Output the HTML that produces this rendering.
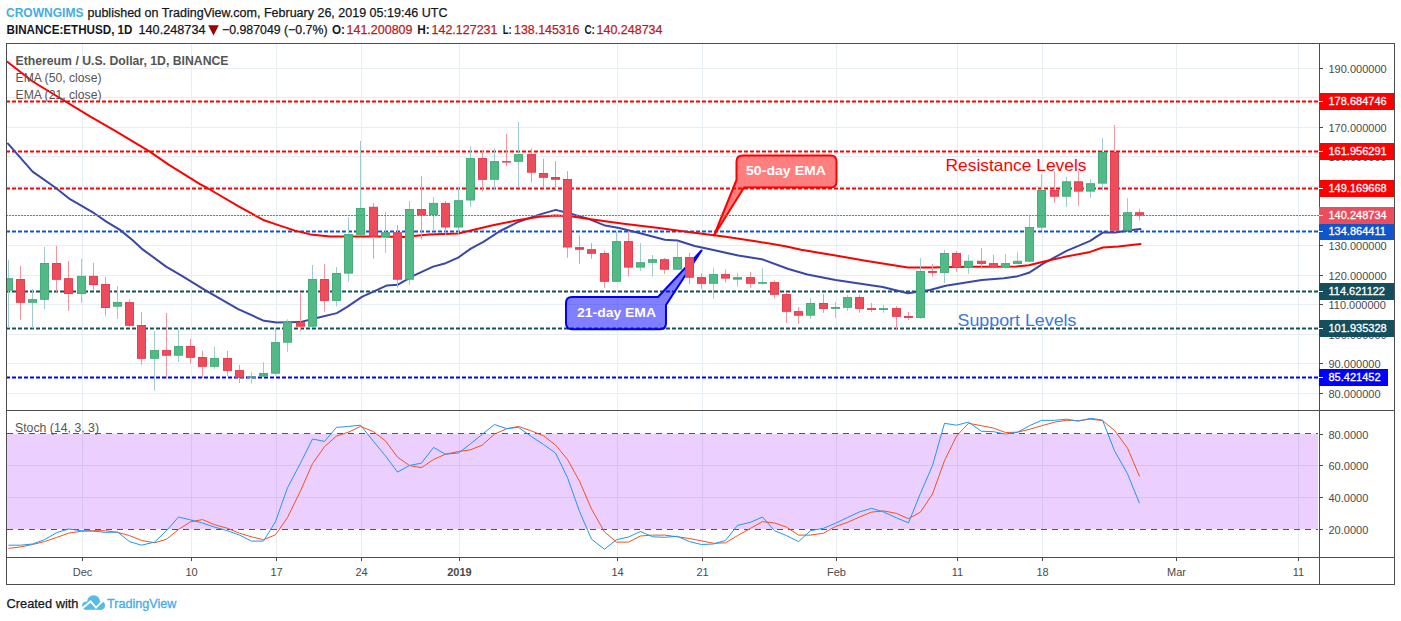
<!DOCTYPE html><html><head><meta charset="utf-8"><style>
html,body{margin:0;padding:0;background:#fff;width:1401px;height:621px;overflow:hidden}
svg{position:absolute;left:0;top:0;display:block}
text{font-family:"Liberation Sans",sans-serif}
</style></head><body>
<svg width="1401" height="621" viewBox="0 0 1401 621">
<rect x="0" y="0" width="1401" height="621" fill="#fff"/>
<defs>
<clipPath id="cm"><rect x="7" y="44" width="1312" height="366"/></clipPath>
<clipPath id="cs"><rect x="7" y="411" width="1312" height="146"/></clipPath>
</defs>
<g clip-path="url(#cm)">
<line x1="6" y1="393.5" x2="1319" y2="393.5" stroke="#e6eef4" stroke-width="1"/>
<line x1="6" y1="363.5" x2="1319" y2="363.5" stroke="#e6eef4" stroke-width="1"/>
<line x1="6" y1="334.5" x2="1319" y2="334.5" stroke="#e6eef4" stroke-width="1"/>
<line x1="6" y1="304.5" x2="1319" y2="304.5" stroke="#e6eef4" stroke-width="1"/>
<line x1="6" y1="275.5" x2="1319" y2="275.5" stroke="#e6eef4" stroke-width="1"/>
<line x1="6" y1="245.5" x2="1319" y2="245.5" stroke="#e6eef4" stroke-width="1"/>
<line x1="6" y1="215.5" x2="1319" y2="215.5" stroke="#e6eef4" stroke-width="1"/>
<line x1="6" y1="186.5" x2="1319" y2="186.5" stroke="#e6eef4" stroke-width="1"/>
<line x1="6" y1="156.5" x2="1319" y2="156.5" stroke="#e6eef4" stroke-width="1"/>
<line x1="6" y1="127.5" x2="1319" y2="127.5" stroke="#e6eef4" stroke-width="1"/>
<line x1="6" y1="97.5" x2="1319" y2="97.5" stroke="#e6eef4" stroke-width="1"/>
<line x1="6" y1="68.5" x2="1319" y2="68.5" stroke="#e6eef4" stroke-width="1"/>
<line x1="82.5" y1="43" x2="82.5" y2="410" stroke="#e6eef4" stroke-width="1"/>
<line x1="191.5" y1="43" x2="191.5" y2="410" stroke="#e6eef4" stroke-width="1"/>
<line x1="276.5" y1="43" x2="276.5" y2="410" stroke="#e6eef4" stroke-width="1"/>
<line x1="361.5" y1="43" x2="361.5" y2="410" stroke="#e6eef4" stroke-width="1"/>
<line x1="459.5" y1="43" x2="459.5" y2="410" stroke="#e6eef4" stroke-width="1"/>
<line x1="617.5" y1="43" x2="617.5" y2="410" stroke="#e6eef4" stroke-width="1"/>
<line x1="702.5" y1="43" x2="702.5" y2="410" stroke="#e6eef4" stroke-width="1"/>
<line x1="836.5" y1="43" x2="836.5" y2="410" stroke="#e6eef4" stroke-width="1"/>
<line x1="957.5" y1="43" x2="957.5" y2="410" stroke="#e6eef4" stroke-width="1"/>
<line x1="1042.5" y1="43" x2="1042.5" y2="410" stroke="#e6eef4" stroke-width="1"/>
<line x1="1176.5" y1="43" x2="1176.5" y2="410" stroke="#e6eef4" stroke-width="1"/>
<line x1="1298.5" y1="43" x2="1298.5" y2="410" stroke="#e6eef4" stroke-width="1"/>
</g>
<g clip-path="url(#cs)">
<line x1="82.5" y1="410" x2="82.5" y2="557" stroke="#e6eef4" stroke-width="1"/>
<line x1="191.5" y1="410" x2="191.5" y2="557" stroke="#e6eef4" stroke-width="1"/>
<line x1="276.5" y1="410" x2="276.5" y2="557" stroke="#e6eef4" stroke-width="1"/>
<line x1="361.5" y1="410" x2="361.5" y2="557" stroke="#e6eef4" stroke-width="1"/>
<line x1="459.5" y1="410" x2="459.5" y2="557" stroke="#e6eef4" stroke-width="1"/>
<line x1="617.5" y1="410" x2="617.5" y2="557" stroke="#e6eef4" stroke-width="1"/>
<line x1="702.5" y1="410" x2="702.5" y2="557" stroke="#e6eef4" stroke-width="1"/>
<line x1="836.5" y1="410" x2="836.5" y2="557" stroke="#e6eef4" stroke-width="1"/>
<line x1="957.5" y1="410" x2="957.5" y2="557" stroke="#e6eef4" stroke-width="1"/>
<line x1="1042.5" y1="410" x2="1042.5" y2="557" stroke="#e6eef4" stroke-width="1"/>
<line x1="1176.5" y1="410" x2="1176.5" y2="557" stroke="#e6eef4" stroke-width="1"/>
<line x1="1298.5" y1="410" x2="1298.5" y2="557" stroke="#e6eef4" stroke-width="1"/>
<line x1="6" y1="465.5" x2="1319" y2="465.5" stroke="#e6eef4" stroke-width="1"/>
<line x1="6" y1="497.5" x2="1319" y2="497.5" stroke="#e6eef4" stroke-width="1"/>
<rect x="7" y="434" width="1311" height="95" fill="rgb(153,21,255)" fill-opacity="0.2"/>
<line x1="7" y1="433.5" x2="1318" y2="433.5" stroke="#555" stroke-width="1" stroke-dasharray="6 5"/>
<line x1="7" y1="529.5" x2="1318" y2="529.5" stroke="#555" stroke-width="1" stroke-dasharray="6 5"/>
<polyline points="8.5,548.4 20.5,546.9 32.5,544.5 44.5,541.6 56.5,537.5 68.5,533.2 81.5,531.2 93.5,530.7 105.5,530.7 117.5,532.4 129.5,535.6 141.5,540.4 154.5,542.8 166.5,539.2 178.5,529.5 190.5,521.8 202.5,519.6 214.5,524.7 227.5,528.3 239.5,533.2 251.5,536.8 263.5,539.7 275.5,534.8 287.5,517.5 300.5,490.9 312.5,463.6 324.5,446.7 336.5,436.1 348.5,432.2 360.5,426.4 373.5,431.7 385.5,440.9 397.5,457.1 409.5,465.5 421.5,467.7 433.5,459.5 445.5,454.2 458.5,451.5 470.5,449.8 482.5,445.0 494.5,434.1 506.5,428.8 518.5,426.4 531.5,431.0 543.5,435.8 555.5,445.0 567.5,459.5 579.5,481.2 591.5,509.0 604.5,531.9 616.5,542.1 628.5,542.1 640.5,536.0 652.5,535.1 664.5,535.1 677.5,536.8 689.5,538.5 701.5,540.9 713.5,543.3 725.5,542.8 737.5,535.6 750.5,528.3 762.5,521.6 774.5,523.0 786.5,527.1 798.5,535.1 810.5,535.1 823.5,533.2 835.5,526.5 847.5,522.3 859.5,517.0 871.5,512.1 883.5,510.9 896.5,513.4 908.5,518.7 920.5,512.1 932.5,494.0 944.5,460.7 956.5,436.1 968.5,423.3 981.5,425.7 993.5,428.1 1005.5,432.5 1017.5,432.2 1029.5,429.3 1041.5,425.8 1054.5,422.2 1066.5,420.3 1078.5,420.6 1090.5,419.2 1102.5,420.6 1114.5,430.4 1127.5,448.1 1139.5,476.4" fill="none" stroke="#f4511e" stroke-width="1" stroke-linejoin="round"/>
<polyline points="8.5,545.2 20.5,545.2 32.5,544.0 44.5,539.7 56.5,532.7 68.5,529.0 81.5,530.7 93.5,531.2 105.5,532.4 117.5,532.0 129.5,541.6 141.5,545.2 154.5,542.1 166.5,530.7 178.5,517.0 190.5,519.9 202.5,523.0 214.5,527.1 227.5,530.7 239.5,535.1 251.5,541.1 263.5,541.1 275.5,521.6 287.5,487.8 300.5,463.1 312.5,439.0 324.5,441.4 336.5,427.4 348.5,426.4 360.5,425.2 373.5,441.4 385.5,455.9 397.5,472.1 409.5,465.5 421.5,463.1 433.5,447.4 445.5,454.2 458.5,453.0 470.5,443.8 482.5,434.1 494.5,424.5 506.5,428.6 518.5,427.4 531.5,436.6 543.5,444.5 555.5,453.0 567.5,477.6 579.5,511.4 591.5,539.2 604.5,549.3 616.5,539.7 628.5,537.0 640.5,531.5 652.5,536.8 664.5,537.3 677.5,536.3 689.5,541.6 701.5,544.5 713.5,544.0 725.5,540.4 737.5,525.4 750.5,522.3 762.5,517.0 774.5,530.7 786.5,535.6 798.5,541.6 810.5,530.7 823.5,528.3 835.5,523.2 847.5,517.5 859.5,511.9 871.5,508.3 883.5,511.9 896.5,517.9 908.5,522.8 920.5,493.3 932.5,465.5 944.5,423.3 956.5,425.2 968.5,422.1 981.5,431.3 993.5,431.7 1005.5,434.1 1017.5,432.2 1029.5,425.7 1041.5,420.4 1054.5,420.3 1066.5,419.2 1078.5,421.2 1090.5,418.3 1102.5,420.1 1114.5,450.7 1127.5,473.8 1139.5,503.3" fill="none" stroke="#2196f3" stroke-width="1" stroke-linejoin="round"/>
</g>
<g clip-path="url(#cm)">
<line x1="6" y1="101.5" x2="1319" y2="101.5" stroke="#ff0000" stroke-width="2" stroke-dasharray="4 2"/>
<line x1="6" y1="151.5" x2="1319" y2="151.5" stroke="#ff0000" stroke-width="2" stroke-dasharray="4 2"/>
<line x1="6" y1="188.5" x2="1319" y2="188.5" stroke="#ff0000" stroke-width="2" stroke-dasharray="4 2"/>
<line x1="6" y1="231.5" x2="1319" y2="231.5" stroke="#1155cc" stroke-width="2" stroke-dasharray="4 2"/>
<line x1="6" y1="291.5" x2="1319" y2="291.5" stroke="#134f5c" stroke-width="2" stroke-dasharray="4 2"/>
<line x1="6" y1="328.5" x2="1319" y2="328.5" stroke="#134f5c" stroke-width="2" stroke-dasharray="4 2"/>
<line x1="6" y1="377.5" x2="1319" y2="377.5" stroke="#0000ff" stroke-width="2" stroke-dasharray="4 2"/>
<path d="M742.5,155.5 H830.5 Q836.5,155.5 836.5,161.5 V181.5 Q836.5,187.5 830.5,187.5 H744 L714,235.5 L736.5,180 V161.5 Q736.5,155.5 742.5,155.5 Z" fill="#ff0000" fill-opacity="0.5" stroke="#ff0000" stroke-width="2" stroke-linejoin="round"/>
<text x="746" y="175" font-size="13" font-weight="bold" fill="#fff" textLength="80" lengthAdjust="spacingAndGlyphs">50-day EMA</text>
<path d="M572,297 H658 L701.5,250.5 L666,305 V323.3 Q666,329.3 660,329.3 H572 Q566,329.3 566,323.3 V303 Q566,297 572,297 Z" fill="#0000ff" fill-opacity="0.5" stroke="#0000ff" stroke-width="2" stroke-linejoin="round"/>
<text x="577" y="317.3" font-size="13" font-weight="bold" fill="#fff" textLength="79" lengthAdjust="spacingAndGlyphs">21-day EMA</text>
<text x="945.5" y="170.7" font-size="16.5" fill="#ff0000" textLength="141" lengthAdjust="spacingAndGlyphs">Resistance Levels</text>
<text x="957.5" y="326.2" font-size="16" fill="#3c78d8" textLength="119" lengthAdjust="spacingAndGlyphs">Support Levels</text>
<polyline points="8.0,143.6 32.6,171.6 55.6,187.8 70.0,199.2 94.2,213.2 106.3,221.6 119.6,229.6 132.4,240.0 141.6,248.6 166.1,266.6 181.5,275.7 204.7,289.8 238.2,309.2 264.0,320.8 276.9,322.6 300.1,322.1 315.6,318.2 336.8,313.1 347.2,306.8 361.9,296.8 374.5,291.1 387.0,285.4 397.5,284.8 414.2,275.4 433.1,266.6 445.7,263.2 458.2,257.6 470.8,248.6 483.4,241.9 500.1,231.0 518.8,221.7 539.3,214.6 555.7,209.9 570.7,213.8 587.9,218.6 605.2,225.6 619.3,228.0 638.2,232.7 664.9,239.8 677.4,240.5 694.7,246.0 710.0,249.3 738.3,255.6 761.8,259.2 788.5,269.0 807.4,274.5 835.6,280.0 882.7,287.0 907.9,293.3 930.0,290.0 945.7,285.7 981.8,279.9 1003.8,278.3 1016.4,276.6 1028.9,272.8 1043.1,263.7 1066.6,250.8 1090.2,240.9 1102.7,232.6 1115.3,232.6 1127.9,230.4 1140.4,229.1" fill="none" stroke="#3948a8" stroke-width="2" stroke-linejoin="round" stroke-linecap="round"/>
<polyline points="7.3,61.8 32.7,81.5 90.0,116.4 116.0,131.3 149.8,151.6 169.0,164.9 200.0,184.2 207.3,188.0 238.2,206.1 264.0,220.3 276.9,224.6 295.0,230.6 310.4,234.4 330.0,236.5 353.5,236.6 382.8,236.6 403.8,237.1 428.9,234.6 458.2,233.5 491.7,225.5 518.8,220.1 539.3,216.7 555.0,215.4 570.7,216.2 594.2,219.8 625.6,224.0 657.0,227.7 688.4,231.9 710.0,234.7 725.7,236.8 757.1,241.5 785.4,246.2 801.1,249.8 835.6,255.6 867.0,261.1 907.9,267.4 930.0,267.5 969.3,266.8 1016.4,266.5 1028.9,265.3 1043.1,261.8 1063.5,257.1 1090.2,251.9 1102.7,247.5 1118.4,246.4 1140.4,244.1" fill="none" stroke="#ff0000" stroke-width="2" stroke-linejoin="round" stroke-linecap="round"/>
<rect x="8" y="260.1" width="1" height="67.7" fill="#9fcbd2"/>
<rect x="4.5" y="278.7" width="8" height="11.5" fill="#53b987" stroke="#44ad78" stroke-width="1"/>
<rect x="20" y="265.8" width="1" height="53.9" fill="#f3959e"/>
<rect x="16.5" y="279.5" width="8" height="22.8" fill="#eb4d5c" stroke="#e63e4f" stroke-width="1"/>
<rect x="32" y="289.1" width="1" height="39.2" fill="#9fcbd2"/>
<rect x="28.5" y="299.6" width="8" height="2.7" fill="#53b987" stroke="#44ad78" stroke-width="1"/>
<rect x="44" y="246.9" width="1" height="62.0" fill="#9fcbd2"/>
<rect x="40.5" y="263.5" width="8" height="35.8" fill="#53b987" stroke="#44ad78" stroke-width="1"/>
<rect x="56" y="246.0" width="1" height="45.9" fill="#f3959e"/>
<rect x="52.5" y="263.5" width="8" height="15.8" fill="#eb4d5c" stroke="#e63e4f" stroke-width="1"/>
<rect x="68" y="261.0" width="1" height="49.9" fill="#f3959e"/>
<rect x="64.5" y="278.7" width="8" height="14.8" fill="#eb4d5c" stroke="#e63e4f" stroke-width="1"/>
<rect x="81" y="259.0" width="1" height="43.8" fill="#9fcbd2"/>
<rect x="77.5" y="276.4" width="8" height="17.1" fill="#53b987" stroke="#44ad78" stroke-width="1"/>
<rect x="93" y="263.0" width="1" height="27.3" fill="#f3959e"/>
<rect x="89.5" y="276.4" width="8" height="8.1" fill="#eb4d5c" stroke="#e63e4f" stroke-width="1"/>
<rect x="105" y="277.0" width="1" height="38.7" fill="#f3959e"/>
<rect x="101.5" y="284.5" width="8" height="23.0" fill="#eb4d5c" stroke="#e63e4f" stroke-width="1"/>
<rect x="117" y="286.2" width="1" height="32.8" fill="#9fcbd2"/>
<rect x="113.5" y="302.5" width="8" height="3.7" fill="#53b987" stroke="#44ad78" stroke-width="1"/>
<rect x="129" y="299.2" width="1" height="28.2" fill="#f3959e"/>
<rect x="125.5" y="302.6" width="8" height="22.7" fill="#eb4d5c" stroke="#e63e4f" stroke-width="1"/>
<rect x="141" y="312.0" width="1" height="52.9" fill="#f3959e"/>
<rect x="137.5" y="325.5" width="8" height="32.8" fill="#eb4d5c" stroke="#e63e4f" stroke-width="1"/>
<rect x="154" y="331.1" width="1" height="59.6" fill="#9fcbd2"/>
<rect x="150.5" y="350.6" width="8" height="7.7" fill="#53b987" stroke="#44ad78" stroke-width="1"/>
<rect x="166" y="313.0" width="1" height="65.6" fill="#f3959e"/>
<rect x="162.5" y="350.6" width="8" height="4.6" fill="#eb4d5c" stroke="#e63e4f" stroke-width="1"/>
<rect x="178" y="329.1" width="1" height="32.6" fill="#9fcbd2"/>
<rect x="174.5" y="346.5" width="8" height="8.7" fill="#53b987" stroke="#44ad78" stroke-width="1"/>
<rect x="190" y="338.8" width="1" height="25.0" fill="#f3959e"/>
<rect x="186.5" y="346.5" width="8" height="10.8" fill="#eb4d5c" stroke="#e63e4f" stroke-width="1"/>
<rect x="202" y="350.9" width="1" height="26.9" fill="#f3959e"/>
<rect x="198.5" y="357.5" width="8" height="8.8" fill="#eb4d5c" stroke="#e63e4f" stroke-width="1"/>
<rect x="214" y="346.9" width="1" height="22.0" fill="#9fcbd2"/>
<rect x="210.5" y="358.5" width="8" height="7.8" fill="#53b987" stroke="#44ad78" stroke-width="1"/>
<rect x="227" y="350.9" width="1" height="25.0" fill="#f3959e"/>
<rect x="223.5" y="358.5" width="8" height="11.9" fill="#eb4d5c" stroke="#e63e4f" stroke-width="1"/>
<rect x="239" y="364.9" width="1" height="18.2" fill="#f3959e"/>
<rect x="235.5" y="370.6" width="8" height="6.7" fill="#eb4d5c" stroke="#e63e4f" stroke-width="1"/>
<rect x="251" y="372.2" width="1" height="11.5" fill="#9fcbd2"/>
<rect x="247" y="376.2" width="9" height="1.7" fill="#44ad78"/>
<rect x="263" y="362.2" width="1" height="14.8" fill="#9fcbd2"/>
<rect x="259.5" y="373.5" width="8" height="2.6" fill="#53b987" stroke="#44ad78" stroke-width="1"/>
<rect x="275" y="328.0" width="1" height="47.4" fill="#9fcbd2"/>
<rect x="271.5" y="342.6" width="8" height="30.6" fill="#53b987" stroke="#44ad78" stroke-width="1"/>
<rect x="287" y="319.3" width="1" height="32.5" fill="#9fcbd2"/>
<rect x="283.5" y="322.3" width="8" height="19.9" fill="#53b987" stroke="#44ad78" stroke-width="1"/>
<rect x="300" y="291.9" width="1" height="38.8" fill="#f3959e"/>
<rect x="296.5" y="322.7" width="8" height="3.5" fill="#eb4d5c" stroke="#e63e4f" stroke-width="1"/>
<rect x="312" y="265.0" width="1" height="61.7" fill="#9fcbd2"/>
<rect x="308.5" y="279.5" width="8" height="46.7" fill="#53b987" stroke="#44ad78" stroke-width="1"/>
<rect x="324" y="264.2" width="1" height="47.5" fill="#f3959e"/>
<rect x="320.5" y="279.5" width="8" height="20.9" fill="#eb4d5c" stroke="#e63e4f" stroke-width="1"/>
<rect x="336" y="267.1" width="1" height="39.3" fill="#9fcbd2"/>
<rect x="332.5" y="273.5" width="8" height="26.9" fill="#53b987" stroke="#44ad78" stroke-width="1"/>
<rect x="348" y="217.1" width="1" height="64.5" fill="#9fcbd2"/>
<rect x="344.5" y="234.6" width="8" height="38.5" fill="#53b987" stroke="#44ad78" stroke-width="1"/>
<rect x="360" y="140.9" width="1" height="94.1" fill="#9fcbd2"/>
<rect x="356.5" y="208.5" width="8" height="25.8" fill="#53b987" stroke="#44ad78" stroke-width="1"/>
<rect x="373" y="202.9" width="1" height="55.8" fill="#f3959e"/>
<rect x="369.5" y="207.3" width="8" height="28.9" fill="#eb4d5c" stroke="#e63e4f" stroke-width="1"/>
<rect x="385" y="211.9" width="1" height="41.0" fill="#9fcbd2"/>
<rect x="381.5" y="232.7" width="8" height="3.8" fill="#53b987" stroke="#44ad78" stroke-width="1"/>
<rect x="397" y="225.0" width="1" height="62.7" fill="#f3959e"/>
<rect x="393.5" y="232.7" width="8" height="46.5" fill="#eb4d5c" stroke="#e63e4f" stroke-width="1"/>
<rect x="409" y="201.0" width="1" height="83.8" fill="#9fcbd2"/>
<rect x="405.5" y="209.5" width="8" height="69.7" fill="#53b987" stroke="#44ad78" stroke-width="1"/>
<rect x="421" y="176.1" width="1" height="63.3" fill="#f3959e"/>
<rect x="417.5" y="209.5" width="8" height="5.5" fill="#eb4d5c" stroke="#e63e4f" stroke-width="1"/>
<rect x="433" y="197.0" width="1" height="34.2" fill="#9fcbd2"/>
<rect x="429.5" y="203.4" width="8" height="11.3" fill="#53b987" stroke="#44ad78" stroke-width="1"/>
<rect x="445" y="201.0" width="1" height="34.1" fill="#f3959e"/>
<rect x="441.5" y="203.4" width="8" height="23.6" fill="#eb4d5c" stroke="#e63e4f" stroke-width="1"/>
<rect x="458" y="187.0" width="1" height="47.0" fill="#9fcbd2"/>
<rect x="454.5" y="200.7" width="8" height="26.3" fill="#53b987" stroke="#44ad78" stroke-width="1"/>
<rect x="470" y="146.2" width="1" height="60.8" fill="#9fcbd2"/>
<rect x="466.5" y="158.5" width="8" height="41.5" fill="#53b987" stroke="#44ad78" stroke-width="1"/>
<rect x="482" y="150.5" width="1" height="41.0" fill="#f3959e"/>
<rect x="478.5" y="158.5" width="8" height="20.8" fill="#eb4d5c" stroke="#e63e4f" stroke-width="1"/>
<rect x="494" y="148.3" width="1" height="42.1" fill="#9fcbd2"/>
<rect x="490.5" y="161.6" width="8" height="17.7" fill="#53b987" stroke="#44ad78" stroke-width="1"/>
<rect x="506" y="133.8" width="1" height="32.6" fill="#f3959e"/>
<rect x="502" y="161.1" width="9" height="1.5" fill="#e63e4f"/>
<rect x="518" y="122.0" width="1" height="65.5" fill="#9fcbd2"/>
<rect x="514.5" y="154.6" width="8" height="6.7" fill="#53b987" stroke="#44ad78" stroke-width="1"/>
<rect x="531" y="148.3" width="1" height="34.1" fill="#f3959e"/>
<rect x="527.5" y="154.6" width="8" height="17.6" fill="#eb4d5c" stroke="#e63e4f" stroke-width="1"/>
<rect x="543" y="158.9" width="1" height="28.6" fill="#f3959e"/>
<rect x="539.5" y="173.5" width="8" height="3.8" fill="#eb4d5c" stroke="#e63e4f" stroke-width="1"/>
<rect x="555" y="161.1" width="1" height="27.8" fill="#f3959e"/>
<rect x="551" y="177.0" width="9" height="2.8" fill="#e63e4f"/>
<rect x="567" y="171.2" width="1" height="86.5" fill="#f3959e"/>
<rect x="563.5" y="179.5" width="8" height="67.5" fill="#eb4d5c" stroke="#e63e4f" stroke-width="1"/>
<rect x="579" y="235.3" width="1" height="28.4" fill="#f3959e"/>
<rect x="575" y="247.1" width="9" height="2.7" fill="#e63e4f"/>
<rect x="591" y="243.1" width="1" height="15.7" fill="#f3959e"/>
<rect x="587.5" y="249.7" width="8" height="3.6" fill="#eb4d5c" stroke="#e63e4f" stroke-width="1"/>
<rect x="604" y="250.4" width="1" height="37.4" fill="#f3959e"/>
<rect x="600.5" y="253.5" width="8" height="27.8" fill="#eb4d5c" stroke="#e63e4f" stroke-width="1"/>
<rect x="616" y="231.6" width="1" height="50.2" fill="#9fcbd2"/>
<rect x="612.5" y="241.6" width="8" height="39.7" fill="#53b987" stroke="#44ad78" stroke-width="1"/>
<rect x="628" y="232.2" width="1" height="44.5" fill="#f3959e"/>
<rect x="624.5" y="241.6" width="8" height="25.5" fill="#eb4d5c" stroke="#e63e4f" stroke-width="1"/>
<rect x="640" y="243.1" width="1" height="27.8" fill="#9fcbd2"/>
<rect x="636.5" y="262.7" width="8" height="4.4" fill="#53b987" stroke="#44ad78" stroke-width="1"/>
<rect x="652" y="255.0" width="1" height="21.7" fill="#9fcbd2"/>
<rect x="648.5" y="259.7" width="8" height="2.6" fill="#53b987" stroke="#44ad78" stroke-width="1"/>
<rect x="664" y="257.9" width="1" height="16.0" fill="#f3959e"/>
<rect x="660.5" y="259.7" width="8" height="9.5" fill="#eb4d5c" stroke="#e63e4f" stroke-width="1"/>
<rect x="677" y="241.3" width="1" height="28.4" fill="#9fcbd2"/>
<rect x="673.5" y="257.5" width="8" height="11.7" fill="#53b987" stroke="#44ad78" stroke-width="1"/>
<rect x="689" y="252.9" width="1" height="30.9" fill="#f3959e"/>
<rect x="685.5" y="257.6" width="8" height="19.6" fill="#eb4d5c" stroke="#e63e4f" stroke-width="1"/>
<rect x="701" y="273.2" width="1" height="15.5" fill="#f3959e"/>
<rect x="697.5" y="277.6" width="8" height="5.7" fill="#eb4d5c" stroke="#e63e4f" stroke-width="1"/>
<rect x="713" y="268.1" width="1" height="30.5" fill="#9fcbd2"/>
<rect x="709.5" y="274.6" width="8" height="8.7" fill="#53b987" stroke="#44ad78" stroke-width="1"/>
<rect x="725" y="269.4" width="1" height="13.5" fill="#f3959e"/>
<rect x="721.5" y="274.6" width="8" height="3.5" fill="#eb4d5c" stroke="#e63e4f" stroke-width="1"/>
<rect x="737" y="273.2" width="1" height="13.6" fill="#9fcbd2"/>
<rect x="733" y="277.1" width="9" height="2.6" fill="#44ad78"/>
<rect x="750" y="272.2" width="1" height="15.5" fill="#f3959e"/>
<rect x="746.5" y="277.6" width="8" height="5.7" fill="#eb4d5c" stroke="#e63e4f" stroke-width="1"/>
<rect x="762" y="268.1" width="1" height="16.7" fill="#9fcbd2"/>
<rect x="758" y="282.1" width="9" height="1.7" fill="#44ad78"/>
<rect x="774" y="280.2" width="1" height="18.4" fill="#f3959e"/>
<rect x="770.5" y="282.6" width="8" height="11.7" fill="#eb4d5c" stroke="#e63e4f" stroke-width="1"/>
<rect x="786" y="292.6" width="1" height="30.4" fill="#f3959e"/>
<rect x="782.5" y="294.6" width="8" height="16.7" fill="#eb4d5c" stroke="#e63e4f" stroke-width="1"/>
<rect x="798" y="307.0" width="1" height="16.9" fill="#f3959e"/>
<rect x="794.5" y="311.6" width="8" height="3.6" fill="#eb4d5c" stroke="#e63e4f" stroke-width="1"/>
<rect x="810" y="298.0" width="1" height="20.8" fill="#9fcbd2"/>
<rect x="806.5" y="303.5" width="8" height="11.7" fill="#53b987" stroke="#44ad78" stroke-width="1"/>
<rect x="823" y="294.0" width="1" height="18.8" fill="#f3959e"/>
<rect x="819.5" y="303.5" width="8" height="4.9" fill="#eb4d5c" stroke="#e63e4f" stroke-width="1"/>
<rect x="835" y="301.9" width="1" height="16.0" fill="#9fcbd2"/>
<rect x="831" y="307.0" width="9" height="1.9" fill="#44ad78"/>
<rect x="847" y="295.0" width="1" height="15.8" fill="#9fcbd2"/>
<rect x="843.5" y="297.6" width="8" height="9.7" fill="#53b987" stroke="#44ad78" stroke-width="1"/>
<rect x="859" y="295.0" width="1" height="17.8" fill="#f3959e"/>
<rect x="855.5" y="297.6" width="8" height="10.8" fill="#eb4d5c" stroke="#e63e4f" stroke-width="1"/>
<rect x="871" y="302.9" width="1" height="9.0" fill="#f3959e"/>
<rect x="867" y="308.1" width="9" height="1.9" fill="#e63e4f"/>
<rect x="883" y="305.0" width="1" height="7.8" fill="#9fcbd2"/>
<rect x="879" y="308.1" width="9" height="1.9" fill="#44ad78"/>
<rect x="896" y="306.1" width="1" height="23.1" fill="#f3959e"/>
<rect x="892.5" y="308.6" width="8" height="7.7" fill="#eb4d5c" stroke="#e63e4f" stroke-width="1"/>
<rect x="908" y="312.0" width="1" height="7.9" fill="#f3959e"/>
<rect x="904" y="316.0" width="9" height="1.9" fill="#e63e4f"/>
<rect x="920" y="258.0" width="1" height="60.8" fill="#9fcbd2"/>
<rect x="916.5" y="271.5" width="8" height="45.9" fill="#53b987" stroke="#44ad78" stroke-width="1"/>
<rect x="932" y="263.9" width="1" height="13.0" fill="#f3959e"/>
<rect x="928" y="271.0" width="9" height="1.9" fill="#e63e4f"/>
<rect x="944" y="249.8" width="1" height="33.3" fill="#9fcbd2"/>
<rect x="940.5" y="253.5" width="8" height="18.9" fill="#53b987" stroke="#44ad78" stroke-width="1"/>
<rect x="956" y="250.9" width="1" height="20.9" fill="#f3959e"/>
<rect x="952.5" y="253.5" width="8" height="13.8" fill="#eb4d5c" stroke="#e63e4f" stroke-width="1"/>
<rect x="968" y="254.9" width="1" height="18.9" fill="#9fcbd2"/>
<rect x="964.5" y="261.3" width="8" height="6.0" fill="#53b987" stroke="#44ad78" stroke-width="1"/>
<rect x="981" y="248.1" width="1" height="20.6" fill="#f3959e"/>
<rect x="977.5" y="261.3" width="8" height="2.1" fill="#eb4d5c" stroke="#e63e4f" stroke-width="1"/>
<rect x="993" y="254.9" width="1" height="13.8" fill="#f3959e"/>
<rect x="989.5" y="263.6" width="8" height="3.5" fill="#eb4d5c" stroke="#e63e4f" stroke-width="1"/>
<rect x="1005" y="254.1" width="1" height="14.6" fill="#9fcbd2"/>
<rect x="1001.5" y="263.6" width="8" height="3.5" fill="#53b987" stroke="#44ad78" stroke-width="1"/>
<rect x="1017" y="252.1" width="1" height="11.8" fill="#9fcbd2"/>
<rect x="1013.5" y="261.3" width="8" height="2.1" fill="#53b987" stroke="#44ad78" stroke-width="1"/>
<rect x="1029" y="215.4" width="1" height="47.1" fill="#9fcbd2"/>
<rect x="1025.5" y="227.5" width="8" height="33.6" fill="#53b987" stroke="#44ad78" stroke-width="1"/>
<rect x="1041" y="174.2" width="1" height="55.8" fill="#9fcbd2"/>
<rect x="1037.5" y="190.5" width="8" height="36.6" fill="#53b987" stroke="#44ad78" stroke-width="1"/>
<rect x="1054" y="171.3" width="1" height="31.6" fill="#f3959e"/>
<rect x="1050.5" y="190.5" width="8" height="5.7" fill="#eb4d5c" stroke="#e63e4f" stroke-width="1"/>
<rect x="1066" y="177.1" width="1" height="29.9" fill="#9fcbd2"/>
<rect x="1062.5" y="181.8" width="8" height="14.4" fill="#53b987" stroke="#44ad78" stroke-width="1"/>
<rect x="1078" y="171.0" width="1" height="34.7" fill="#f3959e"/>
<rect x="1074.5" y="181.8" width="8" height="9.3" fill="#eb4d5c" stroke="#e63e4f" stroke-width="1"/>
<rect x="1090" y="179.1" width="1" height="18.9" fill="#9fcbd2"/>
<rect x="1086.5" y="183.7" width="8" height="7.4" fill="#53b987" stroke="#44ad78" stroke-width="1"/>
<rect x="1102" y="138.0" width="1" height="52.7" fill="#9fcbd2"/>
<rect x="1098.5" y="152.5" width="8" height="30.6" fill="#53b987" stroke="#44ad78" stroke-width="1"/>
<rect x="1114" y="125.0" width="1" height="106.0" fill="#f3959e"/>
<rect x="1110.5" y="152.5" width="8" height="77.6" fill="#eb4d5c" stroke="#e63e4f" stroke-width="1"/>
<rect x="1127" y="198.0" width="1" height="32.6" fill="#9fcbd2"/>
<rect x="1123.5" y="212.7" width="8" height="17.4" fill="#53b987" stroke="#44ad78" stroke-width="1"/>
<rect x="1139" y="208.9" width="1" height="11.6" fill="#f3959e"/>
<rect x="1135.5" y="212.7" width="8" height="2.4" fill="#eb4d5c" stroke="#e63e4f" stroke-width="1"/>
<line x1="6" y1="215.5" x2="1319" y2="215.5" stroke="#eb4d5c" stroke-width="1" stroke-dasharray="2 1"/>
<text x="15.5" y="64.8" font-size="12" font-weight="bold" fill="#555" textLength="213" lengthAdjust="spacingAndGlyphs">Ethereum / U.S. Dollar, 1D, BINANCE</text>
<text x="15.5" y="81.7" font-size="12" fill="#555" textLength="86" lengthAdjust="spacingAndGlyphs">EMA (50, close)</text>
<text x="15.5" y="98.5" font-size="12" fill="#555" textLength="86" lengthAdjust="spacingAndGlyphs">EMA (21, close)</text>
</g>
<text x="15" y="432.2" font-size="12" fill="#555" textLength="84" lengthAdjust="spacingAndGlyphs">Stoch (14, 3, 3)</text>
<rect x="6.5" y="43.5" width="1388" height="541" fill="none" stroke="#4d4d4d" stroke-width="1"/>
<line x1="1319.5" y1="43" x2="1319.5" y2="584" stroke="#4d4d4d" stroke-width="1"/>
<line x1="6" y1="410.5" x2="1394" y2="410.5" stroke="#4d4d4d" stroke-width="1"/>
<line x1="6" y1="557.5" x2="1394" y2="557.5" stroke="#4d4d4d" stroke-width="1"/>
<line x1="1319" y1="393.5" x2="1323" y2="393.5" stroke="#4a4a4a" stroke-width="1"/>
<text x="1328.5" y="397.5" font-size="11" fill="#4a4a4a">80.000000</text>
<line x1="1319" y1="363.5" x2="1323" y2="363.5" stroke="#4a4a4a" stroke-width="1"/>
<text x="1328.5" y="367.5" font-size="11" fill="#4a4a4a">90.000000</text>
<line x1="1319" y1="334.5" x2="1323" y2="334.5" stroke="#4a4a4a" stroke-width="1"/>
<text x="1328.5" y="338.5" font-size="11" fill="#4a4a4a">100.000000</text>
<line x1="1319" y1="304.5" x2="1323" y2="304.5" stroke="#4a4a4a" stroke-width="1"/>
<text x="1328.5" y="308.5" font-size="11" fill="#4a4a4a">110.000000</text>
<line x1="1319" y1="275.5" x2="1323" y2="275.5" stroke="#4a4a4a" stroke-width="1"/>
<text x="1328.5" y="279.5" font-size="11" fill="#4a4a4a">120.000000</text>
<line x1="1319" y1="245.5" x2="1323" y2="245.5" stroke="#4a4a4a" stroke-width="1"/>
<text x="1328.5" y="249.5" font-size="11" fill="#4a4a4a">130.000000</text>
<line x1="1319" y1="215.5" x2="1323" y2="215.5" stroke="#4a4a4a" stroke-width="1"/>
<text x="1328.5" y="219.5" font-size="11" fill="#4a4a4a">140.000000</text>
<line x1="1319" y1="186.5" x2="1323" y2="186.5" stroke="#4a4a4a" stroke-width="1"/>
<text x="1328.5" y="190.5" font-size="11" fill="#4a4a4a">150.000000</text>
<line x1="1319" y1="156.5" x2="1323" y2="156.5" stroke="#4a4a4a" stroke-width="1"/>
<text x="1328.5" y="160.5" font-size="11" fill="#4a4a4a">160.000000</text>
<line x1="1319" y1="127.5" x2="1323" y2="127.5" stroke="#4a4a4a" stroke-width="1"/>
<text x="1328.5" y="131.5" font-size="11" fill="#4a4a4a">170.000000</text>
<line x1="1319" y1="97.5" x2="1323" y2="97.5" stroke="#4a4a4a" stroke-width="1"/>
<text x="1328.5" y="101.5" font-size="11" fill="#4a4a4a">180.000000</text>
<line x1="1319" y1="68.5" x2="1323" y2="68.5" stroke="#4a4a4a" stroke-width="1"/>
<text x="1328.5" y="72.5" font-size="11" fill="#4a4a4a">190.000000</text>
<rect x="1319" y="93.0" width="75" height="17" fill="#ff0000"/>
<line x1="1319" y1="101.5" x2="1323" y2="101.5" stroke="#fff" stroke-width="1"/>
<text x="1328.5" y="104.8" font-size="11" fill="#fff" stroke="#fff" stroke-width="0.3">178.684746</text>
<rect x="1319" y="143.0" width="75" height="17" fill="#ff0000"/>
<line x1="1319" y1="151.5" x2="1323" y2="151.5" stroke="#fff" stroke-width="1"/>
<text x="1328.5" y="154.8" font-size="11" fill="#fff" stroke="#fff" stroke-width="0.3">161.956291</text>
<rect x="1319" y="180.0" width="75" height="17" fill="#ff0000"/>
<line x1="1319" y1="188.5" x2="1323" y2="188.5" stroke="#fff" stroke-width="1"/>
<text x="1328.5" y="191.8" font-size="11" fill="#fff" stroke="#fff" stroke-width="0.3">149.169668</text>
<rect x="1319" y="223.0" width="75" height="17" fill="#1155cc"/>
<line x1="1319" y1="231.5" x2="1323" y2="231.5" stroke="#fff" stroke-width="1"/>
<text x="1328.5" y="234.8" font-size="11" fill="#fff" stroke="#fff" stroke-width="0.3">134.864411</text>
<rect x="1319" y="283.0" width="75" height="17" fill="#134f5c"/>
<line x1="1319" y1="291.5" x2="1323" y2="291.5" stroke="#fff" stroke-width="1"/>
<text x="1328.5" y="294.8" font-size="11" fill="#fff" stroke="#fff" stroke-width="0.3">114.621122</text>
<rect x="1319" y="320.0" width="75" height="17" fill="#134f5c"/>
<line x1="1319" y1="328.5" x2="1323" y2="328.5" stroke="#fff" stroke-width="1"/>
<text x="1328.5" y="331.8" font-size="11" fill="#fff" stroke="#fff" stroke-width="0.3">101.935328</text>
<rect x="1319" y="369.0" width="69" height="17" fill="#0000ff"/>
<line x1="1319" y1="377.5" x2="1323" y2="377.5" stroke="#fff" stroke-width="1"/>
<text x="1328.5" y="380.8" font-size="11" fill="#fff" stroke="#fff" stroke-width="0.3">85.421452</text>
<rect x="1319" y="207" width="75" height="17" fill="#eb4d5c"/>
<line x1="1319" y1="215.5" x2="1323" y2="215.5" stroke="#fff" stroke-width="1"/>
<text x="1328.5" y="218.8" font-size="11" fill="#fff" stroke="#fff" stroke-width="0.3">140.248734</text>
<line x1="1319" y1="434.5" x2="1323" y2="434.5" stroke="#4a4a4a" stroke-width="1"/>
<text x="1328.5" y="438.5" font-size="11" fill="#4a4a4a">80.0000</text>
<line x1="1319" y1="465.5" x2="1323" y2="465.5" stroke="#4a4a4a" stroke-width="1"/>
<text x="1328.5" y="469.5" font-size="11" fill="#4a4a4a">60.0000</text>
<line x1="1319" y1="497.5" x2="1323" y2="497.5" stroke="#4a4a4a" stroke-width="1"/>
<text x="1328.5" y="501.5" font-size="11" fill="#4a4a4a">40.0000</text>
<line x1="1319" y1="529.5" x2="1323" y2="529.5" stroke="#4a4a4a" stroke-width="1"/>
<text x="1328.5" y="533.5" font-size="11" fill="#4a4a4a">20.0000</text>
<line x1="82.5" y1="557" x2="82.5" y2="561" stroke="#4a4a4a" stroke-width="1"/>
<text x="82.5" y="576" font-size="11" fill="#4a4a4a" text-anchor="middle">Dec</text>
<line x1="191.5" y1="557" x2="191.5" y2="561" stroke="#4a4a4a" stroke-width="1"/>
<text x="191.5" y="576" font-size="11" fill="#4a4a4a" text-anchor="middle">10</text>
<line x1="276.5" y1="557" x2="276.5" y2="561" stroke="#4a4a4a" stroke-width="1"/>
<text x="276.5" y="576" font-size="11" fill="#4a4a4a" text-anchor="middle">17</text>
<line x1="361.5" y1="557" x2="361.5" y2="561" stroke="#4a4a4a" stroke-width="1"/>
<text x="361.5" y="576" font-size="11" fill="#4a4a4a" text-anchor="middle">24</text>
<line x1="459.5" y1="557" x2="459.5" y2="561" stroke="#4a4a4a" stroke-width="1"/>
<text x="459.5" y="576" font-size="11" fill="#4a4a4a" text-anchor="middle" font-weight="bold">2019</text>
<line x1="617.5" y1="557" x2="617.5" y2="561" stroke="#4a4a4a" stroke-width="1"/>
<text x="617.5" y="576" font-size="11" fill="#4a4a4a" text-anchor="middle">14</text>
<line x1="702.5" y1="557" x2="702.5" y2="561" stroke="#4a4a4a" stroke-width="1"/>
<text x="702.5" y="576" font-size="11" fill="#4a4a4a" text-anchor="middle">21</text>
<line x1="836.5" y1="557" x2="836.5" y2="561" stroke="#4a4a4a" stroke-width="1"/>
<text x="836.5" y="576" font-size="11" fill="#4a4a4a" text-anchor="middle">Feb</text>
<line x1="957.5" y1="557" x2="957.5" y2="561" stroke="#4a4a4a" stroke-width="1"/>
<text x="957.5" y="576" font-size="11" fill="#4a4a4a" text-anchor="middle">11</text>
<line x1="1042.5" y1="557" x2="1042.5" y2="561" stroke="#4a4a4a" stroke-width="1"/>
<text x="1042.5" y="576" font-size="11" fill="#4a4a4a" text-anchor="middle">18</text>
<line x1="1176.5" y1="557" x2="1176.5" y2="561" stroke="#4a4a4a" stroke-width="1"/>
<text x="1176.5" y="576" font-size="11" fill="#4a4a4a" text-anchor="middle">Mar</text>
<line x1="1298.5" y1="557" x2="1298.5" y2="561" stroke="#4a4a4a" stroke-width="1"/>
<text x="1298.5" y="576" font-size="11" fill="#4a4a4a" text-anchor="middle">11</text>
<text x="6" y="17" font-size="12.5" font-weight="bold" fill="#45ace4" textLength="77.5" lengthAdjust="spacingAndGlyphs">CROWNGIMS</text>
<text x="87.5" y="17" font-size="12.5" fill="#131722" stroke="#131722" stroke-width="0.25" textLength="360" lengthAdjust="spacingAndGlyphs">published on TradingView.com, February 26, 2019 05:19:46 UTC</text>
<text x="6.5" y="34" font-size="12.5" fill="#131722" font-weight="bold" textLength="126" lengthAdjust="spacingAndGlyphs">BINANCE:ETHUSD, 1D</text>
<text x="138.5" y="34" font-size="12.5" fill="#131722" stroke="#131722" stroke-width="0.25" textLength="67" lengthAdjust="spacingAndGlyphs">140.248734</text>
<text x="222" y="34" font-size="12.5" fill="#131722" stroke="#131722" stroke-width="0.25" textLength="105.5" lengthAdjust="spacingAndGlyphs">−0.987049 (−0.7%)</text>
<text x="332" y="34" font-size="12.5" fill="#131722" font-weight="bold" textLength="13" lengthAdjust="spacingAndGlyphs">O:</text>
<text x="346.5" y="34" font-size="12.5" fill="#b71c1c" stroke="#b71c1c" stroke-width="0.25" textLength="66" lengthAdjust="spacingAndGlyphs">141.200809</text>
<text x="417.3" y="34" font-size="12.5" fill="#131722" font-weight="bold" textLength="12.5" lengthAdjust="spacingAndGlyphs">H:</text>
<text x="431.5" y="34" font-size="12.5" fill="#b71c1c" stroke="#b71c1c" stroke-width="0.25" textLength="66" lengthAdjust="spacingAndGlyphs">142.127231</text>
<text x="502.8" y="34" font-size="12.5" fill="#131722" font-weight="bold" textLength="9" lengthAdjust="spacingAndGlyphs">L:</text>
<text x="514" y="34" font-size="12.5" fill="#b71c1c" stroke="#b71c1c" stroke-width="0.25" textLength="65.5" lengthAdjust="spacingAndGlyphs">138.145316</text>
<text x="584.4" y="34" font-size="12.5" fill="#131722" font-weight="bold" textLength="10.5" lengthAdjust="spacingAndGlyphs">C:</text>
<text x="596.5" y="34" font-size="12.5" fill="#b71c1c" stroke="#b71c1c" stroke-width="0.25" textLength="66" lengthAdjust="spacingAndGlyphs">140.248734</text>
<path d="M208.2,25.2 L218.8,25.2 L213.5,35.4 Z" fill="#990000"/>
<text x="6.5" y="607.7" font-size="12.5" fill="#131722" stroke="#131722" stroke-width="0.25" textLength="72" lengthAdjust="spacingAndGlyphs">Created with</text>
<g fill="#55bbe8"><circle cx="86.3" cy="605.6" r="4.1"/><circle cx="93.6" cy="601.6" r="6.4"/><circle cx="100.9" cy="605.6" r="4.1"/><rect x="84" y="604" width="19" height="5.7" rx="1.5"/></g>
<polyline points="81.5,609 90.6,601.4 96,607.6 104,599.6" fill="none" stroke="#fff" stroke-width="1.9" stroke-linejoin="miter"/>
<text x="107" y="607.7" font-size="12.5" fill="#45ace4" stroke="#45ace4" stroke-width="0.3" textLength="69.5" lengthAdjust="spacingAndGlyphs">TradingView</text>
</svg></body></html>
